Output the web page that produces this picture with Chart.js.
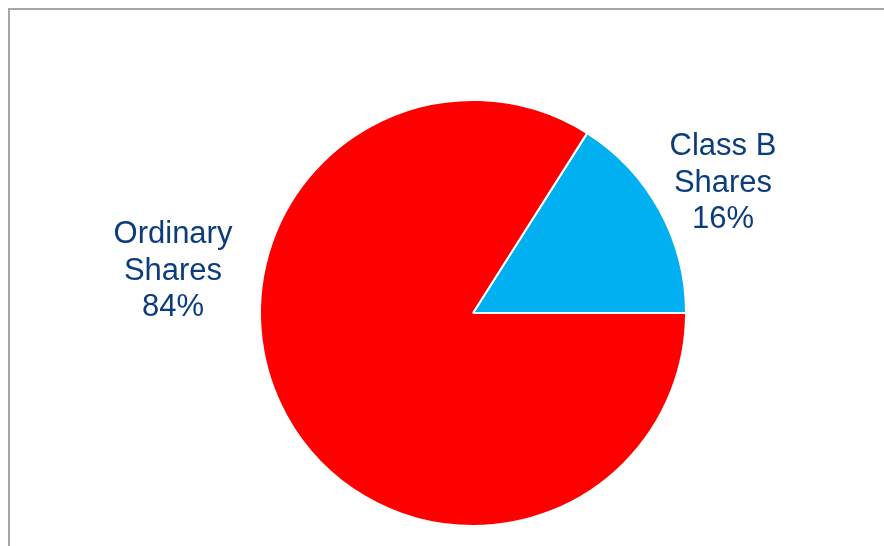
<!DOCTYPE html>
<html>
<head>
<meta charset="utf-8">
<script src="https://cdn.jsdelivr.net/npm/chart.js@4/dist/chart.umd.min.js"></script>
<style>
  html, body { margin: 0; padding: 0; background: #ffffff; }
  #wrap { width: 884px; height: 546px; position: relative; }
</style>
</head>
<body>
<div id="wrap"><canvas id="c" width="884" height="546"></canvas></div>
<script>
const categories = ["Class B Shares", "Ordinary Shares"];
const labelLines = [["Class B", "Shares", "16%"], ["Ordinary", "Shares", "84%"]];
const shares = [16, 84];
const colors = ["#00b0f0", "#ff0000"];

const framePlugin = {
  id: 'frame',
  beforeDraw(chart) {
    const ctx = chart.ctx;
    ctx.save();
    ctx.strokeStyle = '#a6a6a6';
    ctx.lineWidth = 2;
    ctx.beginPath();
    ctx.moveTo(9, 560);
    ctx.lineTo(9, 9);
    ctx.lineTo(900, 9);
    ctx.stroke();
    ctx.restore();
  }
};

// label centre offsets relative to pie centre (manually placed, like the original)
const labelOffsets = [[250, -130], [-300, -42]];
const labelPlugin = {
  id: 'sliceLabels',
  afterDatasetsDraw(chart) {
    const ctx = chart.ctx;
    const meta = chart.getDatasetMeta(0);
    const arc = meta.data[0];
    const cx = arc.x, cy = arc.y;
    ctx.save();
    ctx.fillStyle = '#0b3c7c';
    ctx.font = '31px "Liberation Sans", Arial, sans-serif';
    ctx.textAlign = 'center';
    ctx.textBaseline = 'middle';
    labelLines.forEach((lines, i) => {
      const [ox, oy] = labelOffsets[i];
      const lh = 36.5;
      lines.forEach((t, j) => {
        ctx.fillText(t, cx + ox, cy + oy + (j - 1) * lh);
      });
    });
    ctx.restore();
  }
};

new Chart(document.getElementById('c'), {
  type: 'pie',
  data: {
    labels: categories,
    datasets: [{
      data: shares,
      backgroundColor: colors,
      borderColor: '#ffffff',
      borderWidth: 2
    }]
  },
  options: {
    responsive: false,
    animation: false,
    rotation: 32.4,
    layout: { padding: { top: 99, bottom: 19, left: 259, right: 197 } },
    plugins: {
      legend: { display: false },
      tooltip: { enabled: false },
      title: { display: false }
    }
  },
  plugins: [framePlugin, labelPlugin]
});
</script>
</body>
</html>
